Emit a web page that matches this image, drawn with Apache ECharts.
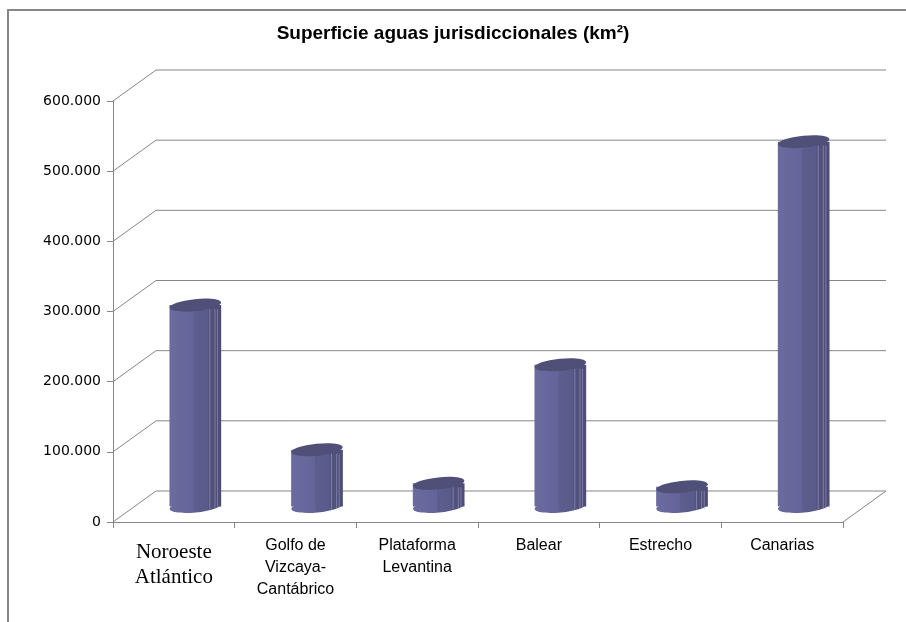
<!DOCTYPE html>
<html><head><meta charset="utf-8">
<script src="https://cdn.jsdelivr.net/npm/echarts@6/dist/echarts.min.js"></script>
<style>html,body{margin:0;padding:0;background:#fff}#c{width:906px;height:622px}</style>
</head><body><div id="c"></div>
<script>
const categories = ['Noroeste\nAtlántico', 'Golfo de\nVizcaya-\nCantábrico', 'Plataforma\nLevantina', 'Balear', 'Estrecho', 'Canarias'];
const values = [287000, 81000, 33000, 202000, 28000, 520000];
const yTicks = [0, 100000, 200000, 300000, 400000, 500000, 600000];
const titleText = 'Superficie aguas jurisdiccionales (km²)';

const DX = 43, DY = -31;
const GRID_COLOR = '#868686';
const fmt = v => String(v).replace(/\B(?=(\d{3})+(?!\d))/g, '.');

const bodyFill = {
  type: 'linear', x: 0, y: 0, x2: 1, y2: 0,
  colorStops: [
    {offset: 0, color: '#6b6ba0'},
    {offset: 0.46, color: '#64649a'},
    {offset: 0.47, color: '#5d5d8e'},
    {offset: 0.74, color: '#59598a'},
    {offset: 0.75, color: '#53537f'},
    {offset: 1, color: '#4c4c76'}
  ]
};

const chart = echarts.init(document.getElementById('c'), null, {renderer: 'canvas'});
chart.setOption({
  animation: false,
  backgroundColor: '#fff',
  title: {
    text: titleText, left: 'center', top: 19,
    textStyle: {fontFamily: 'Liberation Sans', fontSize: 19, fontWeight: 'bold', color: '#000'}
  },
  graphic: [{
    type: 'rect', shape: {x: 8, y: 10, width: 920, height: 640},
    style: {fill: 'none', stroke: GRID_COLOR, lineWidth: 2}, silent: true, z: -1
  }],
  grid: {left: 113, right: 63, top: 101, bottom: 100, containLabel: false},
  xAxis: {
    type: 'category',
    data: categories.map((c, i) => i === 0
      ? {value: c, textStyle: {fontFamily: 'Liberation Serif', fontSize: 21, lineHeight: 25, padding: [5, 0, 0, 0]}}
      : {value: c}),
    axisLine: {lineStyle: {color: GRID_COLOR, width: 1}},
    axisTick: {show: true, length: 6, lineStyle: {color: GRID_COLOR}},
    axisLabel: {interval: 0, margin: 13, color: '#000', fontFamily: 'Liberation Sans', fontSize: 16, lineHeight: 22},
    splitLine: {show: false}
  },
  yAxis: {
    type: 'value', min: 0, max: 600000, interval: 100000,
    axisLine: {show: true, lineStyle: {color: GRID_COLOR, width: 1}},
    axisTick: {show: true, length: 6, lineStyle: {color: GRID_COLOR}},
    axisLabel: {margin: 12, color: '#000', fontFamily: 'DejaVu Sans', fontSize: 14, formatter: fmt},
    splitLine: {show: false}
  },
  series: [
    {
      type: 'custom', z: 1, silent: true,
      data: yTicks.map(v => [0, v]),
      encode: {x: 0, y: 1},
      renderItem: function (params, api) {
        const v = api.value(1);
        const cs = params.coordSys;
        const y = api.coord([0, v])[1];
        const L = cs.x, R = cs.x + cs.width;
        const pts = [[L, y], [L + DX, y + DY], [R + DX, y + DY]];
        if (v === 0) pts.push([R, y]);
        return {type: 'polyline', shape: {points: pts}, style: {stroke: GRID_COLOR, lineWidth: 1, fill: 'none'}};
      }
    },
    {
      type: 'custom', z: 3, silent: true,
      data: values.map((v, i) => [i, v]),
      encode: {x: 0, y: 1},
      renderItem: function (params, api) {
        const i = api.value(0), v = api.value(1);
        const top = api.coord([i, v]);
        const base = api.coord([i, 0]);
        const w = api.size([1, 0])[0] * 0.425;
        const cx = top[0] + DX / 2;
        const ty = top[1] + DY / 2;
        const by = base[1] + DY / 2;
        const rx = w / 2, ry = 6, rot = 0.1;
        const lines = [0.78, 0.88, 0.93].map(f => ({
          type: 'line',
          shape: {x1: cx - rx + w * f, y1: ty + 4, x2: cx - rx + w * f, y2: by + 3},
          style: {stroke: 'rgba(180,180,215,0.45)', lineWidth: 1}
        }));
        return {
          type: 'group',
          children: [
            {type: 'ellipse', shape: {cx: cx, cy: by, rx: rx, ry: ry}, rotation: rot, originX: cx, originY: by, style: {fill: bodyFill}},
            {type: 'rect', shape: {x: cx - rx, y: ty, width: w, height: by - ty}, style: {fill: bodyFill}},
            ...lines,
            {type: 'ellipse', shape: {cx: cx, cy: ty, rx: rx, ry: ry}, rotation: rot, originX: cx, originY: ty, style: {fill: '#4f4f77'}}
          ]
        };
      }
    }
  ]
});
</script></body></html>
